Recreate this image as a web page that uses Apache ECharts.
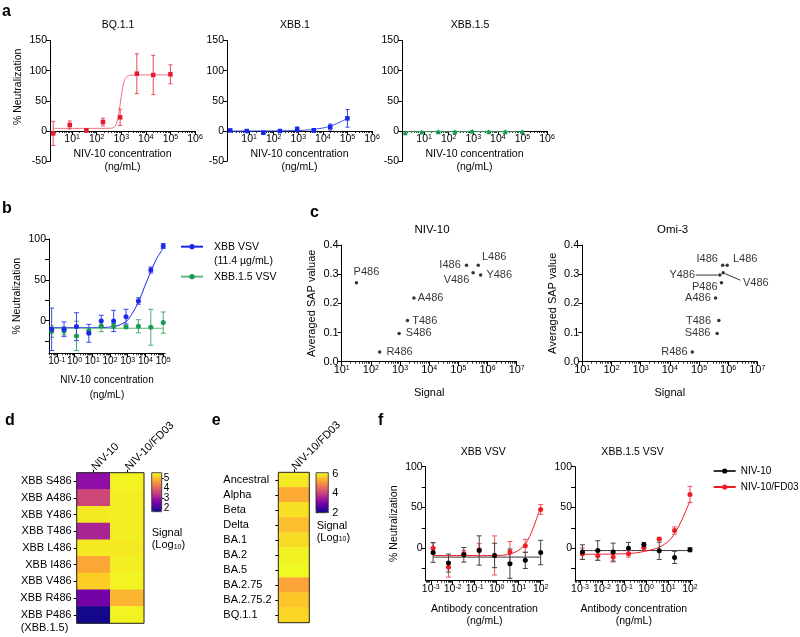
<!DOCTYPE html>
<html>
<head>
<meta charset="utf-8">
<script src="https://cdn.jsdelivr.net/npm/echarts@6.0.0/dist/echarts.min.js"></script>
<style>
html,body{margin:0;padding:0;background:#fff;}
#chart{width:800px;height:637px;}
</style>
</head>
<body>
<div id="chart"></div>
<script>
// ================= DATA =================
// Panel a: % neutralization vs NIV-10 concentration (ng/mL)
const aConc = [1.7, 8, 38, 180, 900, 4300, 20000, 100000];
const aBQ11 = [-3.9, 10, 1.1, 14.9, 22.7, 95, 92.9, 94];
const aBQ11Err = [20, 6.6, 2.8, 6.4, 13.5, 33, 32.6, 15.7];
const aBQ11FitConc = [1.7, 100, 320, 500, 630, 800, 1000, 1260, 1580, 2500, 5000, 100000];
const aBQ11Fit = [4.4, 4.4, 4.6, 6, 12, 30, 58, 80, 89, 92.5, 93, 93];
const aXBB1 = [1, 0, -2.8, 0, 2.8, 1.1, 6.6, 21];
const aXBB1Err = [1, 1, 1.5, 1, 4, 3, 5, 14.6];
const aXBB1FitConc = [1.7, 100, 1000, 3000, 10000, 20000, 40000, 100000];
const aXBB1Fit = [0, 0.2, 0.8, 2, 5, 8, 13, 21];
const aXBB15 = [-2.7, -1.5, -1, -1, -0.5, -1, -1, -1];
const aXBB15Err = [1.2, 1, 1, 1, 1, 1, 1, 1];
const aXBB15FitConc = [1.7, 100000];
const aXBB15Fit = [-1, -1];
const aTitles = ['BQ.1.1', 'XBB.1', 'XBB.1.5'];
const aXTicks = [10, 100, 1e3, 1e4, 1e5, 1e6];

// Panel b
const bConc = [0.0512, 0.256, 1.28, 6.4, 32, 160, 800, 4000, 20000, 100000];
const bXBB = [-10.6, -10.6, -7.3, -15.5, -0.4, -0.4, 4.9, 24.1, 62, 91.4];
const bXBBErr = [26, 9, 17, 11, 7, 13, 9, 4, 3.7, 3];
const bXBB15 = [-13.4, -12.6, -18.7, -12.6, -6.5, -6.5, -7.7, -6.9, -8.1, -2.4];
const bXBB15Err = [7, 5, 18, 2.5, 7, 3, 2, 8, 22, 13];
const bXBBFitConc = [0.0512, 10, 160, 800, 1585, 4000, 8900, 20000, 42700, 100000];
const bXBBFit = [-8.6, -8.6, -7.3, -1.2, 7, 22.5, 41.6, 60, 76, 88.6];
const bXBB15FitConc = [0.0512, 100000];
const bXBB15Fit = [-9.3, -9.3];
const bXTicks = [0.1, 1, 10, 100, 1e3, 1e4, 1e5];
const bYLabels = [0, 50, 100];
const bYTicks = [-25, 0, 25, 50, 75, 100];

// Panel c
const cVariants = ['P486', 'I486', 'L486', 'V486', 'Y486', 'A486', 'T486', 'S486', 'R486'];
const cSAP = [0.271, 0.331, 0.331, 0.305, 0.297, 0.218, 0.141, 0.097, 0.033];
const cNIV10Signal = [32, 190000, 480000, 320000, 580000, 3000, 1800, 930, 200];
const cOmi3Signal = [590000, 650000, 930000, 680000, 520000, 370000, 480000, 420000, 59000];
const cXTicks = [10, 100, 1e3, 1e4, 1e5, 1e6, 1e7];

// Panel d (Signal, log10)
const dRows = ['XBB S486', 'XBB A486', 'XBB Y486', 'XBB T486', 'XBB L486', 'XBB I486', 'XBB V486', 'XBB R486', 'XBB P486'];
const dCols = ['NIV-10', 'NIV-10/FD03'];
const dNIV10 = [2.8, 3.6, 5.45, 3.1, 5.45, 4.8, 5.2, 2.5, 1.65];
const dFD03 = [5.55, 5.5, 5.5, 5.5, 5.45, 5.5, 5.55, 4.95, 5.55];
const dScaleTicksEven = [2, 4];
const dScaleTicksOdd = [3, 5];

// Panel e (Signal, log10)
const eRows = ['Ancestral', 'Alpha', 'Beta', 'Delta', 'BA.1', 'BA.2', 'BA.5', 'BA.2.75', 'BA.2.75.2', 'BQ.1.1'];
const eCols = ['NIV-10/FD03'];
const eFD03 = [6.0, 5.36, 5.9, 5.57, 5.86, 6.07, 6.16, 5.3, 5.65, 5.8];
const eScaleTicks = [2, 4, 6];

// Panel f
const fConc = [0.00128, 0.0064, 0.032, 0.16, 0.8, 4, 20, 100];
const fXBB_NIV10 = [-5.4, -18.3, -8.2, -2.9, -9, -19.1, -15, -5.4];
const fXBB_NIV10Err = [12, 11, 9, 18, 15, 18, 10, 15];
const fXBB_FD03 = [0, -23.6, -7, -2, -9, -4.9, 2.8, 47.5];
const fXBB_FD03Err = [7, 12, 4, 7.5, 24, 13, 8, 6];
const fXBB_NIV10FitConc = [0.00128, 100];
const fXBB_NIV10Fit = [-11, -11];
const fXBB_FD03FitConc = [0.00128, 1, 3.16, 5.6, 10, 16.2, 25, 39, 63, 87];
const fXBB_FD03Fit = [-9, -9, -8, -6, -2.5, 2, 9, 20, 35, 46];
const fXBB15_NIV10 = [-4.9, -2.9, -4.9, 0, 4, -3.3, -11.4, -2];
const fXBB15_NIV10Err = [9, 12, 11, 7, 3, 10.6, 7.5, 2.5];
const fXBB15_FD03 = [-7, -9.3, -11, -7, 0.4, 11.3, 21.5, 65.9];
const fXBB15_FD03Err = [7, 5.7, 6, 4, 4, 1, 4.5, 10];
const fXBB15_NIV10FitConc = [0.00128, 100];
const fXBB15_NIV10Fit = [-3, -3];
const fXBB15_FD03FitConc = [0.00128, 0.032, 0.32, 1, 3.16, 10, 20, 40, 63, 100];
const fXBB15_FD03Fit = [-7.5, -7.3, -6, -3.5, 0, 8, 18, 33, 45, 58];
const fXTicks = [1e-3, 1e-2, 1e-1, 1, 10, 100];
const fYLabels = [0, 50, 100];
const fYTicks = [-25, 0, 25, 50, 75, 100];

// ================= BUILD =================
const FONT = '"Liberation Sans", Arial, Helvetica, sans-serif';
const BLACK = '#000';
const PLASMA = ['#0d0887', '#41049d', '#6a00a8', '#8f0da4', '#b12a90', '#cc4778', '#e16462', '#f2844b', '#fca636', '#fcce25', '#f0f921'];

const grids = [], xAxis = [], yAxis = [], series = [], graphics = [], legends = [], visualMaps = [];

function zip(xs, ys) { return xs.map((x, i) => [x, ys[i]]); }
function minorTicks(min, max) {
  const out = [];
  for (let e = -5; e <= 7; e++) for (let k = 2; k <= 9; k++) {
    const v = +(k * Math.pow(10, e)).toPrecision(3);
    if (v > min && v < max) out.push(v);
  }
  return out;
}
function supLabel(v) { return '10{s|' + Math.round(Math.log10(v)) + '}'; }
function txt(fs, extra) { return Object.assign({ fontSize: fs, fontFamily: FONT, color: BLACK }, extra || {}); }

function addGrid(left, top, width, height, extra) {
  grids.push(Object.assign({ left, top, width, height, show: false, containLabel: false, outerBoundsMode: 'none' }, extra || {}));
  return grids.length - 1;
}
// offset: shift of the x axis from the grid bottom (negative = up), used so the axis sits at y = 0
function addLogX(gi, min, max, labels, fs, name, nameGap, lineHeight, offset) {
  const base = { gridIndex: gi, type: 'log', logBase: 10, min, max, position: 'bottom', offset: offset || 0, splitLine: { show: false }, silent: true };
  const idx = xAxis.length;
  xAxis.push(Object.assign({}, base, {
    axisLine: { show: true, onZero: false, lineStyle: { color: BLACK, width: 1 } },
    axisTick: { show: true, length: 4, inside: false, customValues: labels, lineStyle: { color: BLACK, width: 1 } },
    axisLabel: {
      show: true, customValues: labels, formatter: supLabel, margin: 3, hideOverlap: false,
      fontSize: fs, fontFamily: FONT, color: BLACK,
      rich: { s: { fontSize: Math.round(fs * 0.68), fontFamily: FONT, color: BLACK, verticalAlign: 'top' } }
    },
    name, nameLocation: 'middle', nameGap, nameTextStyle: txt(fs, { lineHeight })
  }));
  xAxis.push(Object.assign({}, base, {
    axisLine: { show: false, onZero: false },
    axisTick: { show: true, length: 2, inside: false, customValues: minorTicks(min, max), lineStyle: { color: BLACK, width: 0.8 } },
    axisLabel: { show: false }
  }));
  return idx;
}
function addValY(gi, min, max, fs, opt) {
  const idx = yAxis.length;
  yAxis.push(Object.assign({
    gridIndex: gi, type: 'value', min, max, silent: true,
    axisLine: { show: true, onZero: false, lineStyle: { color: BLACK, width: 1 } },
    axisTick: { show: true, length: 4, lineStyle: { color: BLACK, width: 1 } },
    axisLabel: { fontSize: fs, fontFamily: FONT, color: BLACK, margin: 3, hideOverlap: false },
    splitLine: { show: false },
    nameLocation: 'middle', nameGap: 26, nameTextStyle: txt(fs)
  }, opt || {}));
  return idx;
}
function errSeries(xi, yi, xs, ys, es, color, cap, width) {
  return {
    type: 'custom', xAxisIndex: xi, yAxisIndex: yi, silent: true, clip: false, z: 3,
    data: xs.map((x, k) => [x, ys[k], es[k]]),
    encode: { x: 0, y: 1 },
    renderItem(params, api) {
      const x = api.value(0), y = api.value(1), e = api.value(2);
      const hi = api.coord([x, y + e]), lo = api.coord([x, y - e]);
      const st = () => ({ stroke: color, lineWidth: width });
      return {
        type: 'group', children: [
          { type: 'line', shape: { x1: hi[0], y1: hi[1], x2: lo[0], y2: lo[1] }, style: st() },
          { type: 'line', shape: { x1: hi[0] - cap, y1: hi[1], x2: hi[0] + cap, y2: hi[1] }, style: st() },
          { type: 'line', shape: { x1: lo[0] - cap, y1: lo[1], x2: lo[0] + cap, y2: lo[1] }, style: st() }
        ]
      };
    }
  };
}
function fitSeries(xi, yi, xs, ys, color, width, name, extra) {
  return Object.assign({
    type: 'line', name: name, xAxisIndex: xi, yAxisIndex: yi, data: zip(xs, ys),
    smooth: 0.35, symbol: 'none', silent: true, z: 2,
    lineStyle: { color, width }, itemStyle: { color }
  }, extra || {});
}
function ptSeries(xi, yi, xs, ys, color, symbol, size, name) {
  return {
    type: 'scatter', name: name, xAxisIndex: xi, yAxisIndex: yi, data: zip(xs, ys),
    symbol, symbolSize: size, itemStyle: { color, opacity: 1 }, silent: true, z: 4
  };
}
function text(x, y, str, fs, extra) {
  graphics.push({
    type: 'text', x, y, silent: true,
    style: Object.assign({ text: str, fontSize: fs, fontFamily: FONT, fill: BLACK, align: 'center', verticalAlign: 'middle', textAlign: 'center', textVerticalAlign: 'middle' }, extra || {})
  });
}
function colorbarAxis(cg, min, max, ticks, fs, margin) {
  yAxis.push({
    gridIndex: cg, type: 'value', min, max, position: 'right', silent: true,
    axisLine: { show: false }, splitLine: { show: false },
    axisTick: { show: true, length: 2, customValues: ticks, lineStyle: { color: BLACK } },
    axisLabel: { customValues: ticks, hideOverlap: false, showMinLabel: true, showMaxLabel: true, fontSize: fs, fontFamily: FONT, color: BLACK, margin }
  });
}

// ---------- Panel a ----------
const aLefts = [50, 227, 402];
const aYMin = -50, aYMax = 150, aGridH = 120.7;
const aSets = [
  { y: aBQ11, e: aBQ11Err, fx: aBQ11FitConc, fy: aBQ11Fit, c: '#e41a2e', cl: '#f0707e', ce: '#ec4a5a', sym: 'rect', ss: 4.5 },
  { y: aXBB1, e: aXBB1Err, fx: aXBB1FitConc, fy: aXBB1Fit, c: '#1428e6', cl: '#3a4cf0', ce: '#3446ee', sym: 'rect', ss: 4.5 },
  { y: aXBB15, e: aXBB15Err, fx: aXBB15FitConc, fy: aXBB15Fit, c: '#169a4c', cl: '#3aa866', ce: '#3aa866', sym: 'triangle', ss: 5 }
];
aSets.forEach((s, i) => {
  const gi = addGrid(aLefts[i], 40.5, 145, aGridH);
  const yi = addValY(gi, aYMin, aYMax, 10.5, {
    interval: 50, name: i === 0 ? '% Neutralization' : '',
    nameTextStyle: txt(10.5, { padding: [0, 0, 0, 28] })
  });
  // x axis drawn at y = 0: shift it up from the grid bottom by the share of the range below zero
  const zeroShift = -(0 - aYMin) / (aYMax - aYMin) * aGridH;
  const xi = addLogX(gi, 1.26, 1e6, aXTicks, 10.5, 'NIV-10 concentration\n(ng/mL)', 17, 13, zeroShift);
  series.push(fitSeries(xi, yi, s.fx, s.fy, s.cl, 1));
  series.push(errSeries(xi, yi, aConc, s.y, s.e, s.ce, 2, 1));
  series.push(ptSeries(xi, yi, aConc, s.y, s.c, s.sym, s.ss));
  text(118 + (aLefts[i] - 50), 25, aTitles[i], 10.5);
});

// ---------- Panel b ----------
{
  const gi = addGrid(49, 239, 116, 114.3);
  const yi = addValY(gi, -40, 100, 10.5, {
    name: '% Neutralization',
    axisLabel: { fontSize: 10.5, fontFamily: FONT, color: BLACK, margin: 3, customValues: bYLabels },
    axisTick: { show: true, length: 4, customValues: bYTicks, lineStyle: { color: BLACK, width: 1 } },
    nameTextStyle: txt(10.5)
  });
  const xi = addLogX(gi, 0.0363, 1.26e5, bXTicks, 10, 'NIV-10 concentration\n(ng/mL)', 19, 15);
  const blue = '#1d27ee', green = '#1a9a50';
  series.push(fitSeries(xi, yi, bXBBFitConc, bXBBFit, blue, 1, 'XBB VSV', { symbol: 'circle', showSymbol: false, symbolSize: 5 }));
  series.push(fitSeries(xi, yi, bXBB15FitConc, bXBB15Fit, '#5cb882', 1.2, 'XBB.1.5 VSV', { symbol: 'circle', showSymbol: false, symbolSize: 5, itemStyle: { color: green } }));
  series.push(errSeries(xi, yi, bConc, bXBB15, bXBB15Err, '#4aae72', 2.5, 1));
  series.push(errSeries(xi, yi, bConc, bXBB, bXBBErr, '#3b45f0', 2.5, 1));
  series.push(ptSeries(xi, yi, bConc, bXBB15, green, 'circle', 5));
  series.push(ptSeries(xi, yi, bConc, bXBB, blue, 'circle', 5));
  legends.push({
    data: ['XBB VSV'], left: 180, top: 225.2, orient: 'vertical', padding: 0, selectedMode: false,
    itemWidth: 22, itemHeight: 6.5, formatter: () => '\nXBB VSV\n(11.4 µg/mL)',
    textStyle: txt(10.5, { lineHeight: 14.3, padding: [0, 0, 0, 6] })
  });
  legends.push({
    data: ['XBB.1.5 VSV'], left: 180, top: 269.5, orient: 'vertical', padding: 0, selectedMode: false,
    itemWidth: 22, itemHeight: 6.5,
    textStyle: txt(10.5, { lineHeight: 14.3, padding: [0, 0, 0, 6] })
  });
}

// ---------- Panel c ----------
const cLabelNIV = {
  P486: { position: 'top', offset: [10, 0], distance: 3 },
  I486: { position: 'left', distance: 4 },
  L486: { position: 'right', offset: [0, -8], distance: 2 },
  V486: { position: 'left', offset: [0, 7.5], distance: 2 },
  Y486: { position: 'right', distance: 4 },
  A486: { position: 'right', distance: 2 },
  T486: { position: 'right', distance: 3 },
  S486: { position: 'right', distance: 5 },
  R486: { position: 'right', distance: 5 }
};
const cLabelOmi = {
  P486: { position: 'left', offset: [0, 4], distance: 2 },
  I486: { position: 'left', offset: [0, -6], distance: 3 },
  L486: { position: 'right', offset: [0, -6], distance: 4 },
  V486: { position: 'right', offset: [0, 10], distance: 18 },
  Y486: { position: 'left', distance: 23 },
  A486: { position: 'left', distance: 3 },
  T486: { position: 'left', distance: 6 },
  S486: { position: 'left', distance: 5 },
  R486: { position: 'left', distance: 3 }
};
// leader lines (pixel offsets from the point to the displaced label)
const cLeaderOmi = { Y486: [[-2, 0], [-24, 0]], V486: [[2, 1], [17, 7.5]] };
[
  { left: 341.7, sig: cNIV10Signal, title: 'NIV-10', yname: 'Averaged SAP valuae', lab: cLabelNIV, lead: {} },
  { left: 582.3, sig: cOmi3Signal, title: 'Omi-3', yname: 'Averaged SAP value', lab: cLabelOmi, lead: cLeaderOmi }
].forEach(p => {
  const gi = addGrid(p.left, 245, 175, 116.7);
  const yi = addValY(gi, 0, 0.4, 11, {
    interval: 0.1, name: p.yname,
    axisLabel: { fontSize: 11, fontFamily: FONT, color: BLACK, margin: 3, formatter: v => v.toFixed(1) },
    nameGap: 24, nameTextStyle: txt(11)
  });
  const xi = addLogX(gi, 10, 1e7, cXTicks, 11, 'Signal', 25, 13);
  series.push({
    type: 'scatter', xAxisIndex: xi, yAxisIndex: yi, symbol: 'circle', symbolSize: 3.5, silent: true,
    itemStyle: { color: BLACK },
    data: cVariants.map((v, k) => {
      const L = p.lab[v];
      return {
        name: v, value: [p.sig[k], cSAP[k]],
        label: { show: true, formatter: '{b}', position: L.position, distance: L.distance, offset: L.offset || [0, 0], fontSize: 11, fontFamily: FONT, color: BLACK }
      };
    })
  });
  const leadIdx = cVariants.map((v, k) => k).filter(k => p.lead[cVariants[k]]);
  if (leadIdx.length) {
    series.push({
      type: 'custom', xAxisIndex: xi, yAxisIndex: yi, silent: true, z: 3,
      data: leadIdx.map(k => [p.sig[k], cSAP[k], k]),
      encode: { x: 0, y: 1 },
      renderItem(params, api) {
        const c = api.coord([api.value(0), api.value(1)]);
        const L = p.lead[cVariants[api.value(2)]];
        return { type: 'line', shape: { x1: c[0] + L[0][0], y1: c[1] + L[0][1], x2: c[0] + L[1][0], y2: c[1] + L[1][1] }, style: { stroke: BLACK, lineWidth: 0.8 } };
      }
    });
  }
  text(p.left + 90.3, 229.5, p.title, 11.5);
});

// ---------- Panel d ----------
{
  const gi = addGrid(76.7, 472.7, 67.3, 150.6, { show: true, borderColor: '#222', borderWidth: 1, z: 10, backgroundColor: 'transparent' });
  xAxis.push({
    gridIndex: gi, type: 'category', data: dCols, position: 'top',
    axisLine: { show: false }, axisTick: { show: true, alignWithLabel: true, length: 3, lineStyle: { color: BLACK } },
    axisLabel: { rotate: -45, interval: 0, fontSize: 11, fontFamily: FONT, color: BLACK, margin: 4 }, splitLine: { show: false }
  });
  yAxis.push({
    gridIndex: gi, type: 'category', data: dRows, inverse: true,
    axisLine: { show: false }, axisTick: { show: true, alignWithLabel: true, interval: 0, length: 3, lineStyle: { color: BLACK } },
    axisLabel: {
      interval: 0, hideOverlap: false,
      fontSize: 11, fontFamily: FONT, color: BLACK, margin: 5,
      formatter: v => v === 'XBB P486' ? '{e| }\n{w|XBB P486}\n{w|(XBB.1.5)}' : v,
      rich: { e: { fontSize: 11, lineHeight: 13.3 }, w: { width: 51, align: 'left', fontSize: 11, fontFamily: FONT, color: BLACK, lineHeight: 13.3 } }
    },
    splitLine: { show: false }
  });
  const xi = xAxis.length - 1, yi = yAxis.length - 1;
  const data = [];
  dRows.forEach((r, k) => { data.push([0, k, dNIV10[k]]); data.push([1, k, dFD03[k]]); });
  series.push({ type: 'heatmap', xAxisIndex: xi, yAxisIndex: yi, data, silent: true, itemStyle: { borderWidth: 0 } });
  visualMaps.push({
    type: 'continuous', seriesIndex: series.length - 1, min: 1.6, max: 5.6, inRange: { color: PLASMA },
    left: 151.7, top: 472.7, itemWidth: 10, itemHeight: 39, calculable: false, orient: 'vertical', padding: 0,
    hoverLink: false, show: true, text: null
  });
  const cg = addGrid(151.7, 472.7, 10, 39, { show: true, borderColor: '#222', borderWidth: 0.8, z: 10, backgroundColor: 'transparent' });
  xAxis.push({ gridIndex: cg, type: 'value', show: false });
  colorbarAxis(cg, 1.6, 5.6, dScaleTicksEven, 10, 2);
  colorbarAxis(cg, 1.6, 5.6, dScaleTicksOdd, 10, 2);
  text(151.7, 533, 'Signal', 11, { align: 'left', textAlign: 'left' });
  text(151.7, 545, '(Log{sub|10})', 11, { align: 'left', textAlign: 'left', rich: { sub: { fontSize: 7, fontFamily: FONT, fill: BLACK, verticalAlign: 'bottom' } } });
}

// ---------- Panel e ----------
{
  const gi = addGrid(278.3, 472.3, 31, 150.4, { show: true, borderColor: '#222', borderWidth: 1, z: 10, backgroundColor: 'transparent' });
  xAxis.push({
    gridIndex: gi, type: 'category', data: eCols, position: 'top',
    axisLine: { show: false }, axisTick: { show: true, alignWithLabel: true, length: 3, lineStyle: { color: BLACK } },
    axisLabel: { rotate: -45, interval: 0, fontSize: 11, fontFamily: FONT, color: BLACK, margin: 4 }, splitLine: { show: false }
  });
  yAxis.push({
    gridIndex: gi, type: 'category', data: eRows, inverse: true,
    axisLine: { show: false }, axisTick: { show: true, alignWithLabel: true, interval: 0, length: 3, lineStyle: { color: BLACK } },
    axisLabel: { interval: 0, hideOverlap: false, fontSize: 11, fontFamily: FONT, color: BLACK, margin: 55, align: 'left' },
    splitLine: { show: false }
  });
  const xi = xAxis.length - 1, yi = yAxis.length - 1;
  series.push({ type: 'heatmap', xAxisIndex: xi, yAxisIndex: yi, data: eRows.map((r, k) => [0, k, eFD03[k]]), silent: true });
  visualMaps.push({
    type: 'continuous', seriesIndex: series.length - 1, min: 2, max: 6.15, inRange: { color: PLASMA },
    left: 316, top: 472.7, itemWidth: 12.3, itemHeight: 40, calculable: false, orient: 'vertical', padding: 0,
    hoverLink: false, show: true, text: null
  });
  const cg = addGrid(316, 472.7, 12.3, 40, { show: true, borderColor: '#222', borderWidth: 0.8, z: 10, backgroundColor: 'transparent' });
  xAxis.push({ gridIndex: cg, type: 'value', show: false });
  colorbarAxis(cg, 2, 6.15, eScaleTicks, 11, 4);
  text(316.7, 525.7, 'Signal', 11, { align: 'left', textAlign: 'left' });
  text(316.7, 537.5, '(Log{sub|10})', 11, { align: 'left', textAlign: 'left', rich: { sub: { fontSize: 7, fontFamily: FONT, fill: BLACK, verticalAlign: 'bottom' } } });
}

// ---------- Panel f ----------
const fRed = '#ee1c25';
[
  { left: 425.7, title: 'XBB VSV', n: fXBB_NIV10, ne: fXBB_NIV10Err, r: fXBB_FD03, re: fXBB_FD03Err,
    nfx: fXBB_NIV10FitConc, nfy: fXBB_NIV10Fit, rfx: fXBB_FD03FitConc, rfy: fXBB_FD03Fit, yname: '% Neutralization' },
  { left: 575, title: 'XBB.1.5 VSV', n: fXBB15_NIV10, ne: fXBB15_NIV10Err, r: fXBB15_FD03, re: fXBB15_FD03Err,
    nfx: fXBB15_NIV10FitConc, nfy: fXBB15_NIV10Fit, rfx: fXBB15_FD03FitConc, rfy: fXBB15_FD03Fit, yname: '' }
].forEach(p => {
  const gi = addGrid(p.left, 466.7, 117.6, 114);
  const yi = addValY(gi, -40, 100, 10.5, {
    name: p.yname,
    axisLabel: { fontSize: 10.5, fontFamily: FONT, color: BLACK, margin: 3, customValues: fYLabels },
    axisTick: { show: true, length: 4, customValues: fYTicks, lineStyle: { color: BLACK, width: 1 } },
    nameTextStyle: txt(10.5)
  });
  const xi = addLogX(gi, 5.89e-4, 131.8, fXTicks, 10.5, 'Antibody concentration\n(ng/mL)', 22, 12);
  series.push(fitSeries(xi, yi, p.nfx, p.nfy, '#333', 1, 'NIV-10', { symbol: 'circle', showSymbol: false, symbolSize: 5, itemStyle: { color: BLACK } }));
  series.push(fitSeries(xi, yi, p.rfx, p.rfy, fRed, 1, 'NIV-10/FD03', { symbol: 'circle', showSymbol: false, symbolSize: 5 }));
  series.push(errSeries(xi, yi, fConc, p.r, p.re, '#f0505a', 2.5, 1));
  series.push(errSeries(xi, yi, fConc, p.n, p.ne, '#444', 2.5, 1));
  series.push(ptSeries(xi, yi, fConc, p.r, fRed, 'circle', 5));
  series.push(ptSeries(xi, yi, fConc, p.n, BLACK, 'circle', 5));
  text(p.left + 57.6, 451.7, p.title, 10.5);
});
legends.push({
  data: ['NIV-10', 'NIV-10/FD03'], left: 712.7, top: 464.5, orient: 'vertical', padding: 0, selectedMode: false,
  itemWidth: 22, itemHeight: 6.5, itemGap: 3,
  textStyle: txt(10, { lineHeight: 13, padding: [0, 0, 0, 0] })
});

// ---------- panel letters ----------
[['a', 2, 11.5], ['b', 2, 209], ['c', 310, 212.5], ['d', 5, 421], ['e', 211.7, 420.5], ['f', 378, 421]].forEach(([t, x, y]) => {
  text(x, y, t, 16, { align: 'left', textAlign: 'left', fontWeight: 'bold' });
});

const chart = echarts.init(document.getElementById('chart'), null, { renderer: 'canvas' });
chart.setOption({
  animation: false,
  backgroundColor: '#fff',
  textStyle: { fontFamily: FONT },
  grid: grids, xAxis, yAxis, series, legend: legends, visualMap: visualMaps,
  graphic: { elements: graphics }
});
</script>
</body>
</html>
